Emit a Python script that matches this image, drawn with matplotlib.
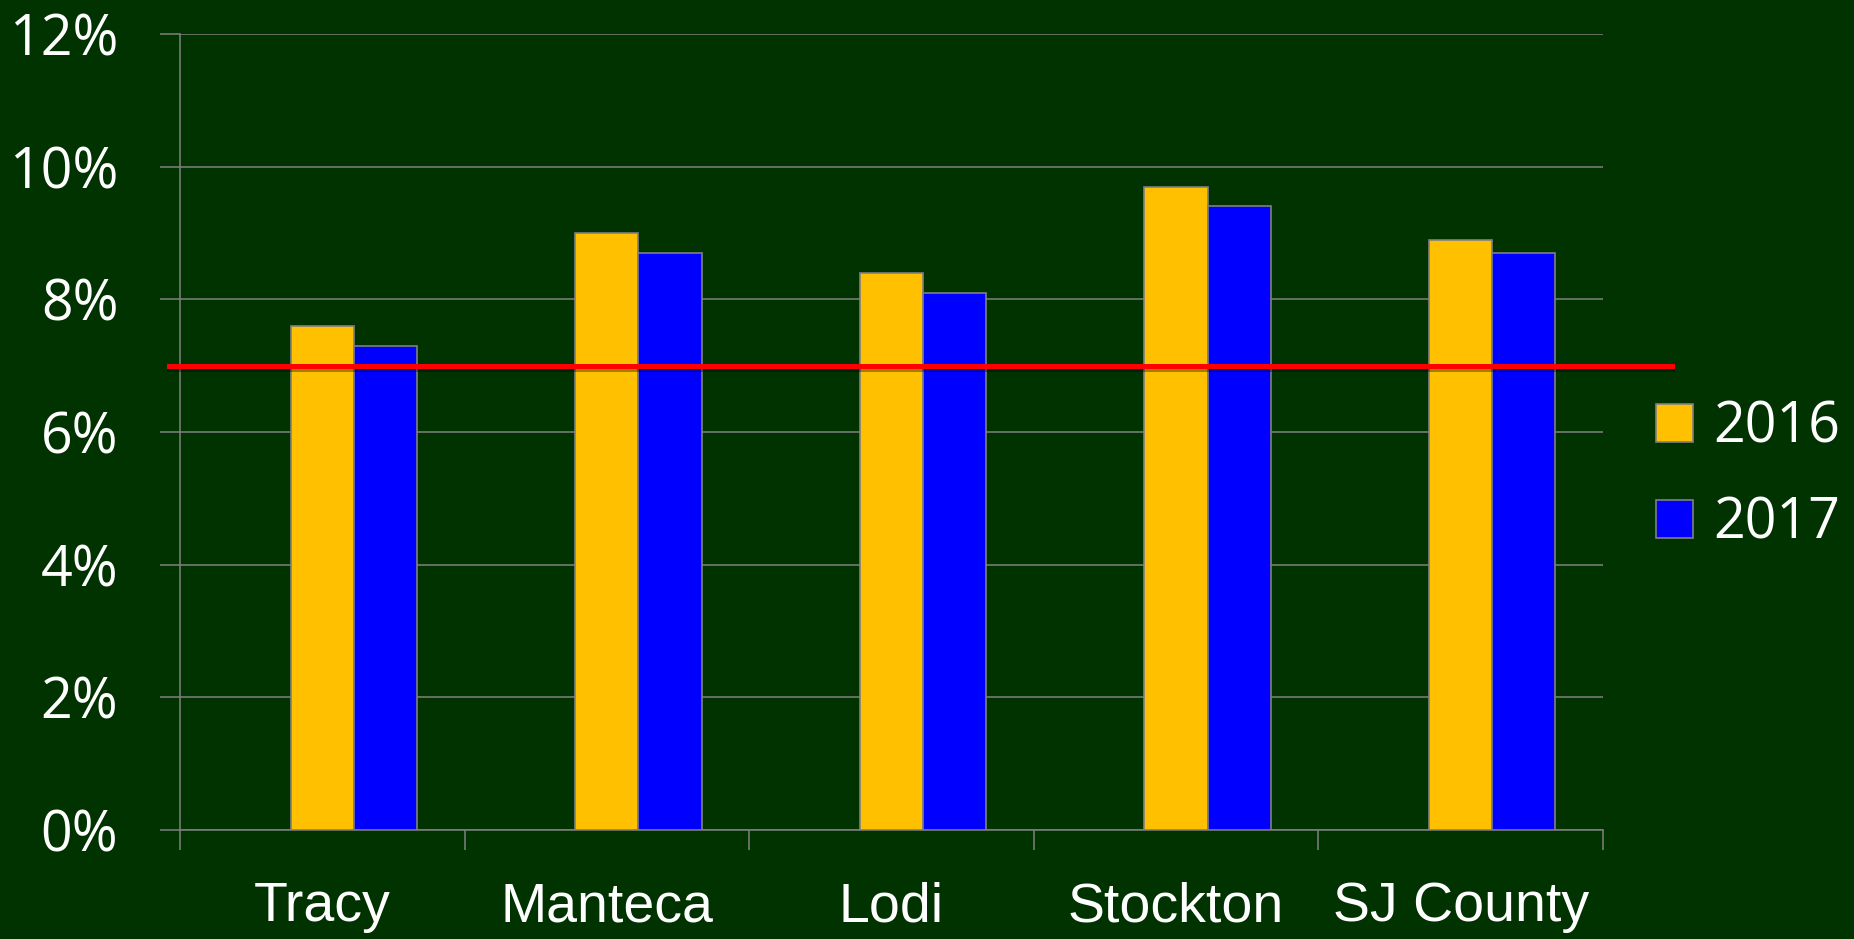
import matplotlib
matplotlib.use('Agg')
import matplotlib.pyplot as plt
import matplotlib.patheffects as pe
from matplotlib.patches import Patch
import numpy as np

# Data
categories = ['Tracy', 'Manteca', 'Lodi', 'Stockton', 'SJ County']
series_names = ['2016', '2017']
values_2016 = [7.6, 9.0, 8.4, 9.7, 8.9]
values_2017 = [7.3, 8.7, 8.1, 9.4, 8.7]
target = 7.0
yticks = [0, 2, 4, 6, 8, 10, 12]

BG = '#003300'
GRID = '#808080'
C2016 = '#FFC000'
C2017 = '#0000FF'

fig = plt.figure(figsize=(18.54, 9.39), dpi=100, facecolor=BG)
ax = fig.add_axes([0.0971, 0.1161, 0.7675, 0.8477])
ax.set_facecolor(BG)

x = np.arange(len(categories))
w = 0.222
ax.bar(x, values_2016, width=w, color=C2016, edgecolor=GRID, linewidth=1.2,
       zorder=3)
ax.bar(x + w, values_2017, width=w, color=C2017, edgecolor=GRID, linewidth=1.2,
       zorder=3)

ax.set_xlim(-0.5, len(categories) - 0.5)
ax.set_ylim(0, 12)

# horizontal target line, running past the plot area on both sides
trans = matplotlib.transforms.blended_transform_factory(ax.transAxes, ax.transData)
ax.plot([-0.0077, 1.0485], [target, target], color='#FF0000', lw=3.6,
        transform=trans, clip_on=False, zorder=5,
        path_effects=[pe.SimpleLineShadow(offset=(0, -2.5), alpha=0.35),
                      pe.Normal()])

# y axis
ax.set_yticks(yticks)
ax.set_yticklabels([f'{t}%' for t in yticks])
ax.yaxis.grid(True, color=GRID, lw=1.1, zorder=0)
ax.tick_params(axis='y', direction='out', length=14.4, width=1.1, color=GRID,
               pad=30, labelsize=40, labelcolor='white')
for lab in ax.get_yticklabels():
    lab.set_family(['Open Sans', 'DejaVu Sans'])

# x axis: ticks at category boundaries, labels at centres
ax.set_xticks(np.arange(-0.5, len(categories), 1.0))
ax.set_xticklabels([])
ax.set_xticks(x, minor=True)
ax.set_xticklabels(categories, minor=True)
ax.tick_params(axis='x', which='major', direction='out', length=14.4,
               width=1.1, color=GRID)
ax.tick_params(axis='x', which='minor', length=0, pad=37, labelsize=40,
               labelcolor='white')
for lab in ax.get_xticklabels(minor=True):
    lab.set_family(['Liberation Sans', 'DejaVu Sans'])

for s in ['top', 'right']:
    ax.spines[s].set_visible(False)
for s in ['left', 'bottom']:
    ax.spines[s].set_color(GRID)
    ax.spines[s].set_linewidth(1.1)

handles = [Patch(facecolor=C2016, edgecolor=GRID, lw=1.2),
           Patch(facecolor=C2017, edgecolor=GRID, lw=1.2)]
leg = fig.legend(handles, series_names, loc='center left',
                 bbox_to_anchor=(0.893, 0.493), frameon=False,
                 prop={'family': ['Open Sans', 'DejaVu Sans'], 'size': 40},
                 handlelength=0.67, handleheight=0.67, handletextpad=0.37,
                 labelspacing=0.7, borderpad=0, borderaxespad=0)
for t in leg.get_texts():
    t.set_color('white')

fig.savefig('out.png', dpi=100, facecolor=BG)
